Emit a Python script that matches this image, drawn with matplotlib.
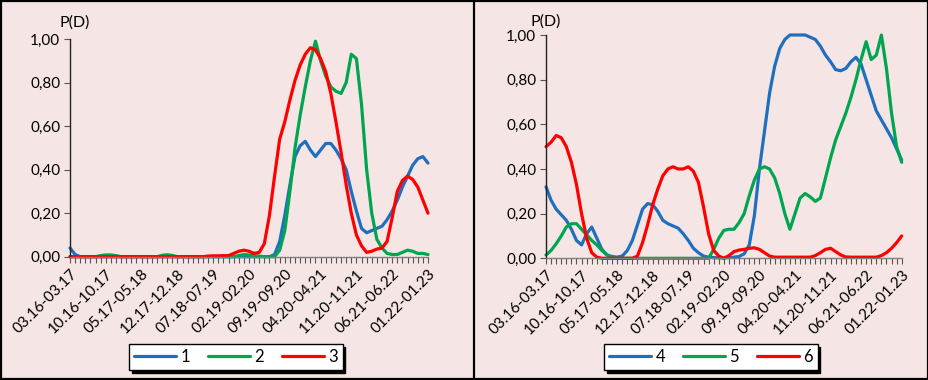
import matplotlib
matplotlib.use("Agg")
import matplotlib.pyplot as plt
from matplotlib.lines import Line2D
from matplotlib.ticker import MultipleLocator, FixedLocator, FuncFormatter
import numpy as np

plt.rcParams['font.family'] = ['Lato', 'DejaVu Sans']

# ---- data ----
tick_labels = ["03.16-03.17", "10.16-10.17", "05.17-05.18", "12.17-12.18", "07.18-07.19",
               "02.19-02.20", "09.19-09.20", "04.20-04.21", "11.20-11.21", "06.21-06.22",
               "01.22-01.23"]
n_points = 71  # monthly windows 03.16-03.17 ... 01.22-01.23

s1 = [0.04, 0.01] + [0.0] * 38 + [
    0.01, 0.07, 0.19, 0.33, 0.46, 0.51, 0.53, 0.49, 0.46, 0.49,
    0.52, 0.52, 0.49, 0.45, 0.40, 0.30, 0.21, 0.13, 0.11, 0.12,
    0.13, 0.14, 0.17, 0.21, 0.26, 0.32, 0.37, 0.42, 0.45, 0.46, 0.43]
s2 = [0.0] * 6 + [0.005, 0.008, 0.008, 0.005] + [0.0] * 8 + [0.006, 0.009, 0.006] + \
     [0.0] * 12 + [0.005, 0.01, 0.008, 0.005, 0.003, 0.0, 0.0, 0.0] + [
    0.03, 0.12, 0.30, 0.50, 0.65, 0.78, 0.90, 0.99, 0.90, 0.83,
    0.78, 0.76, 0.75, 0.80, 0.93, 0.91, 0.70, 0.40, 0.20, 0.08,
    0.04, 0.015, 0.01, 0.01, 0.02, 0.03, 0.025, 0.015, 0.015, 0.01]
s3 = [0.0] * 27 + [0.003, 0.004, 0.004, 0.005, 0.005, 0.015, 0.025, 0.03, 0.025,
                   0.015, 0.02, 0.06, 0.19, 0.37, 0.54, 0.62, 0.72, 0.81, 0.88,
                   0.93, 0.96, 0.95, 0.91, 0.85, 0.75, 0.62, 0.48, 0.33, 0.20,
                   0.10, 0.05, 0.02, 0.025, 0.035, 0.04, 0.07, 0.18, 0.30, 0.35,
                   0.37, 0.355, 0.32, 0.26, 0.20]

s4 = [0.32, 0.26, 0.22, 0.195, 0.17, 0.13, 0.08, 0.06, 0.11, 0.14,
      0.09, 0.04, 0.015, 0.008, 0.005, 0.01, 0.035, 0.08, 0.15, 0.22,
      0.245, 0.24, 0.21, 0.17, 0.155, 0.145, 0.135, 0.11, 0.08, 0.045,
      0.025, 0.01, 0.005, 0.003, 0.002, 0.002, 0.003, 0.005, 0.008, 0.02,
      0.06, 0.19, 0.40, 0.57, 0.74, 0.86, 0.94, 0.98, 1.0, 1.0,
      1.0, 1.0, 0.99, 0.98, 0.95, 0.91, 0.88, 0.845, 0.84, 0.85,
      0.88, 0.90, 0.87, 0.80, 0.73, 0.66, 0.62, 0.58, 0.54, 0.49, 0.44]
s5 = [0.015, 0.035, 0.065, 0.10, 0.14, 0.155, 0.155, 0.13, 0.105, 0.08,
      0.06, 0.035, 0.015, 0.003] + [0.0] * 19 + [
      0.04, 0.09, 0.125, 0.13, 0.13, 0.16, 0.20, 0.28, 0.35, 0.40,
      0.41, 0.40, 0.36, 0.29, 0.20, 0.13, 0.20, 0.27, 0.29, 0.275,
      0.255, 0.27, 0.36, 0.45, 0.53, 0.59, 0.65, 0.72, 0.80, 0.89,
      0.97, 0.89, 0.91, 1.0, 0.85, 0.65, 0.50, 0.43]
s6 = [0.50, 0.52, 0.55, 0.54, 0.50, 0.43, 0.33, 0.20, 0.09, 0.025,
      0.005] + [0.0] * 7 + [
      0.01, 0.07, 0.15, 0.24, 0.31, 0.37, 0.40, 0.41, 0.40, 0.40,
      0.41, 0.39, 0.34, 0.23, 0.11, 0.035, 0.01, 0.0, 0.012, 0.03,
      0.037, 0.04, 0.045, 0.047, 0.04, 0.025, 0.01, 0.005, 0.005, 0.005,
      0.005, 0.005, 0.005, 0.005, 0.005, 0.012, 0.025, 0.04, 0.045, 0.03,
      0.015, 0.006, 0.005, 0.005, 0.005, 0.005, 0.005, 0.005, 0.012, 0.025,
      0.045, 0.07, 0.10]

left_names = ["1", "2", "3"]
right_names = ["4", "5", "6"]
colors = ["#1F6FBF", "#00A550", "#FF0000"]
bg = "#F6E5E5"

W, H = 929, 380
fig = plt.figure(figsize=(W / 100, H / 100), dpi=100, facecolor=bg)


def fx(px):
    return px / W


def fy(py):
    return 1 - py / H


def make_panel(rect, series, names, legend_box):
    ax = fig.add_axes(rect)
    ax.set_facecolor(bg)
    x = np.arange(n_points)
    handles = []
    for s, c, nm in zip(series, colors, names):
        h, = ax.plot(x, s, color=c, lw=2.3, solid_joinstyle='round',
                     solid_capstyle='round', label=nm, clip_on=False)
        handles.append(h)
    ax.set_xlim(0, n_points - 1)
    ax.set_ylim(0, 1.0)
    for sp in ("top", "right"):
        ax.spines[sp].set_visible(False)
    ax.spines["left"].set_color("#222222")
    ax.spines["bottom"].set_color("#7F7F7F")
    ax.spines["left"].set_linewidth(1.0)
    ax.spines["bottom"].set_linewidth(1.0)
    ax.yaxis.set_major_locator(MultipleLocator(0.2))
    ax.yaxis.set_major_formatter(FuncFormatter(lambda v, p: f"{v:.2f}".replace(".", ",")))
    ax.xaxis.set_major_locator(FixedLocator(list(range(0, n_points, 7))))
    ax.xaxis.set_minor_locator(FixedLocator(list(range(n_points))))
    ax.set_xticklabels(tick_labels, rotation=45, ha="right", rotation_mode="anchor")
    ax.tick_params(axis="x", which="both", direction="out", length=4, width=0.8,
                   color="#555555", labelsize=11, pad=3)
    ax.tick_params(axis="y", direction="out", length=4, width=0.8, color="#555555",
                   labelsize=11, pad=3)
    leg = fig.legend(handles=handles, loc="center",
                     bbox_to_anchor=legend_box, ncol=3, frameon=True,
                     fancybox=False, shadow={'color': 'black', 'alpha': 1.0, 'ox': 2, 'oy': -2},
                     fontsize=12, handlelength=2.5, handletextpad=0.25,
                     columnspacing=1.1, borderpad=0.3, borderaxespad=0,
                     edgecolor="black", facecolor="white", framealpha=1.0)
    leg.get_frame().set_linewidth(1.0)
    return ax


axL = make_panel([fx(70), fy(256.7), fx(428) - fx(70), fy(39) - fy(256.7)],
                 [s1, s2, s3], left_names, (fx(236), fy(357)))
axR = make_panel([fx(546), fy(258.3), fx(901.7) - fx(546), fy(35) - fy(258.3)],
                 [s4, s5, s6], right_names, (fx(711), fy(357)))

fig.text(fx(60), fy(23), "P(D)", fontsize=11.5, ha="left", va="center")
fig.text(fx(531), fy(22), "P(D)", fontsize=11.5, ha="left", va="center")

# panel frames
for xs, ys in [([fx(1), fx(1)], [0, 1]), ([fx(928), fx(928)], [0, 1]),
               ([0, 1], [fy(1), fy(1)]), ([0, 1], [fy(379), fy(379)]),
               ([fx(473.5), fx(473.5)], [0, 1])]:
    fig.add_artist(Line2D(xs, ys, transform=fig.transFigure, color="black", lw=1.6))

fig.savefig("out.png", dpi=100, facecolor=bg)
